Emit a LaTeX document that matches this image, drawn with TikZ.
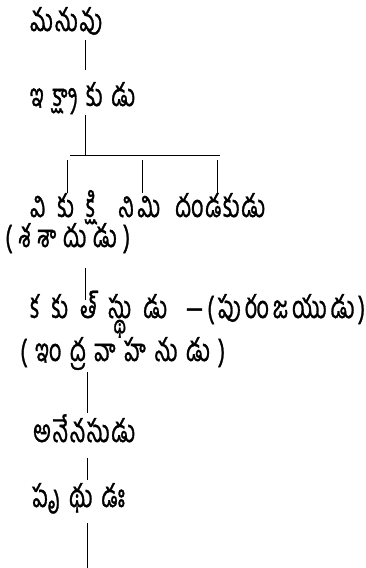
\documentclass[tikz,border=0pt]{standalone}
\usepackage{fontspec}
\newfontfamily\telfont[Script=Telugu,FakeBold=1.3]{Hind Guntur}
\usetikzlibrary{calc}
% a line of text spread to a given width (before the horizontal squeeze)
\newcommand\tbox[2]{\hbox to \dimexpr #1*10/9\relax{#2}}
\newcommand\tsq[1]{\scalebox{0.9}[1.3]{#1}}
\begin{document}
\begin{tikzpicture}[x=1pt,y=-1pt,
  lbl/.style={anchor=base west,inner sep=0pt,font=\telfont\fontsize{24}{28}\selectfont},
  conn/.style={line width=1pt,black}]
\useasboundingbox (0,0) rectangle (366,568);
\fill[white] (0,0) rectangle (366,568);
\node[lbl] (manu) at (30,31) {\tsq{\tbox{72pt}{మ\hfil ను\hfil వు}}};
\node[lbl] (ik) at (30,106) {\tsq{\tbox{105pt}{ఇ\hfil క్ష్వా\hfil కు\hfil డు}}};
\node[lbl] (vik) at (30,217) {\tsq{\tbox{65pt}{వి\hfil కు\hfil క్షి}}};
\node[lbl] (nimi) at (118,217) {\tsq{\tbox{42pt}{ని\hfil మి}}};
\node[lbl] (danda) at (175,217) {\tsq{\tbox{90pt}{దం\hfil డ\hfil కు\hfil డు}}};
\node[lbl] (sasa) at (5,247) {\tsq{\tbox{125pt}{(\hfil శ\hfil శా\hfil దు\hfil డు\hfil)}}};
\node[lbl] (kaku) at (30,318) {\tsq{\tbox{137pt}{క\hfil కు\hfil త్\hfil స్థు\hfil డు}}};
\node[lbl] (dash) at (185,318) {\tsq{\tbox{17pt}{\hfil\scalebox{1.6}[1]{–}\hfil}}};
\node[lbl] (puran) at (207,318) {\tsq{\tbox{158pt}{(\hfil పు\hfil రం\hfil జ\hfil యు\hfil డు\hfil)}}};
\node[lbl] (indra) at (20,361) {\tsq{\tbox{205pt}{(\hfil ఇం\hfil ద్ర\hfil వా\hfil హ\hfil ను\hfil డు\hfil)}}};
\node[lbl] (ane) at (33,442) {\tsq{\tbox{102pt}{అ\hfil నే\hfil న\hfil సు\hfil డు}}};
\node[lbl] (pr) at (32,507) {\tsq{\tbox{93pt}{పృ\hfil థు\hfil డః}}};
\coordinate (ta) at (85,0);
\coordinate (tb) at (87,0);
\coordinate (split) at (85,155);
\coordinate (hl) at (70,155);
\coordinate (hr) at (220,155);
\coordinate (d1) at (67,160);
\coordinate (d2) at (142,160);
\coordinate (d3) at (217,160);
\coordinate (bot) at (87,568);
\draw[conn] ($(manu.base -| ta)+(0,9)$) -- ($(ik.base -| ta)+(0,-36)$);
\draw[conn] ($(ik.base -| ta)+(0,9)$) -- (split);
\draw[conn] (hl) -- (hr);
\draw[conn] (d1) -- ($(vik.base -| d1)+(0,-24)$);
\draw[conn] (d2) -- ($(nimi.base -| d2)+(0,-24)$);
\draw[conn] (d3) -- ($(danda.base -| d3)+(0,-24)$);
\draw[conn] ($(sasa.base -| ta)+(0,21)$) -- ($(kaku.base -| ta)+(0,-18)$);
\draw[conn] ($(indra.base -| tb)+(0,11)$) -- ($(ane.base -| tb)+(0,-29)$);
\draw[conn] ($(ane.base -| tb)+(0,16)$) -- ($(pr.base -| tb)+(0,-27)$);
\draw[conn] ($(pr.base -| tb)+(0,16)$) -- (bot);
\end{tikzpicture}
\end{document}
